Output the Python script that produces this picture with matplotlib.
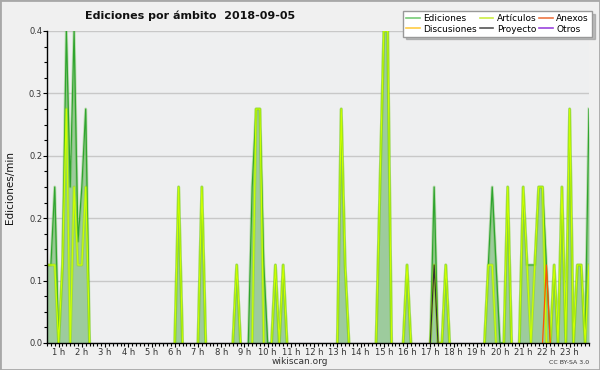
import numpy as np
import matplotlib
matplotlib.use("Agg")
import matplotlib.pyplot as plt
from matplotlib.lines import Line2D
from matplotlib.patches import Rectangle
from matplotlib.ticker import FixedLocator, FuncFormatter

# 10-minute bins, first bin at 00:30
start_hour = 0.5
step_hours = 1 / 6

ediciones = [
    0.1, 0.1, 0.2, 0, 0.1, 0.4, 0.2, 0.4, 0.13, 0.2, 0.3, 0,
    0, 0, 0, 0, 0, 0, 0, 0, 0, 0, 0, 0,
    0, 0, 0, 0, 0, 0, 0, 0, 0, 0, 0.2, 0,
    0, 0, 0, 0, 0.2, 0, 0, 0, 0, 0, 0, 0,
    0, 0.1, 0, 0, 0, 0.2, 0.3, 0.3, 0.1, 0, 0, 0.1,
    0, 0.1, 0, 0, 0, 0, 0, 0, 0, 0, 0, 0,
    0, 0, 0, 0, 0.3, 0.1, 0, 0, 0, 0, 0, 0,
    0, 0, 0.2, 0.4, 0.4, 0, 0, 0, 0, 0.1, 0, 0,
    0, 0, 0, 0, 0.2, 0, 0, 0.1, 0, 0, 0, 0,
    0, 0, 0, 0, 0, 0, 0.1, 0.2, 0.1, 0, 0, 0.2,
    0, 0, 0, 0.2, 0.1, 0.1, 0.1, 0.2, 0.2, 0.1, 0, 0.1,
    0, 0.2, 0, 0.3, 0, 0.1, 0.1, 0, 0.3,
]
articulos = [
    0.1, 0.1, 0.1, 0, 0.1, 0.3, 0, 0.2, 0.1, 0.1, 0.2, 0,
    0, 0, 0, 0, 0, 0, 0, 0, 0, 0, 0, 0,
    0, 0, 0, 0, 0, 0, 0, 0, 0, 0, 0.2, 0,
    0, 0, 0, 0, 0.2, 0, 0, 0, 0, 0, 0, 0,
    0, 0.1, 0, 0, 0, 0, 0.3, 0.3, 0, 0, 0, 0.1,
    0, 0.1, 0, 0, 0, 0, 0, 0, 0, 0, 0, 0,
    0, 0, 0, 0, 0.3, 0.1, 0, 0, 0, 0, 0, 0,
    0, 0, 0.2, 0.4, 0.4, 0, 0, 0, 0, 0.1, 0, 0,
    0, 0, 0, 0, 0.1, 0, 0, 0.1, 0, 0, 0, 0,
    0, 0, 0, 0, 0, 0, 0.1, 0.1, 0, 0, 0, 0.2,
    0, 0, 0, 0.2, 0.1, 0, 0.1, 0.2, 0.2, 0, 0, 0.1,
    0, 0.2, 0, 0.3, 0, 0.1, 0.1, 0, 0.1,
]
# sparse series: {bin index: value}
anexos = {128: 0, 129: 0.1, 130: 0}
proyecto = {99: 0, 100: 0.1, 101: 0}
discusiones = {}
otros = {}

legend_labels = ["Ediciones", "Discusiones", "Artículos", "Proyecto", "Anexos", "Otros"]
legend_colors = ["#77cc77", "#ffcc44", "#ccee44", "#555555", "#ee7744", "#9944dd"]

y_ticks = [0, 0.08, 0.16, 0.24, 0.32, 0.4]
hour_ticks = list(range(1, 24))

fig = plt.figure(figsize=(6, 3.7), dpi=100, facecolor="#f0f0f0")
ax = fig.add_axes([47 / 600, 27 / 370, 542 / 600, 312 / 370], facecolor="#eeeff0")

n = len(ediciones)
x = start_hour + step_hours * np.arange(n)


def hide_flat_zero(vals):
    """Hide runs of zeros along the baseline (keep the zero ends of peaks)."""
    v = np.array(vals, dtype=float)
    out = v.copy()
    for i in range(len(v)):
        left = v[i - 1] if i > 0 else 0
        right = v[i + 1] if i < len(v) - 1 else 0
        if v[i] == 0 and left == 0 and right == 0:
            out[i] = np.nan
    return out


e_line = hide_flat_zero(ediciones)
a_line = hide_flat_zero(articulos)

ax.fill_between(x, ediciones, color="#9dcb9d", lw=0, zorder=2)
ax.plot(x, e_line, color="#66bb44", lw=2.2, alpha=0.35, zorder=3)
ax.plot(x, e_line, color="#2fa52f", lw=0.9, zorder=4)

ax.plot(x, a_line, color="#88dd00", lw=2.2, alpha=0.45, zorder=6)
ax.plot(x, a_line, color="#ccff00", lw=0.9, zorder=7)


def sparse_xy(d):
    idx = sorted(d)
    return [start_hour + step_hours * i for i in idx], [d[i] for i in idx]


for d, col in [(anexos, "#ff5500"), (proyecto, "#333333"), (discusiones, "#ffcc44"), (otros, "#9944dd")]:
    if d:
        sx, sy = sparse_xy(d)
        ax.plot(sx, sy, color=col, lw=0.9, zorder=8)

ax.set_xlim(x[0], x[-1])
ax.set_ylim(0, 0.4)

ax.yaxis.set_major_locator(FixedLocator(y_ticks))
ax.yaxis.set_minor_locator(FixedLocator(np.arange(0, 0.4001, 0.02)))
ax.yaxis.set_major_formatter(FuncFormatter(lambda v, p: f"{v:.1f}"))
ax.xaxis.set_major_locator(FixedLocator(hour_ticks))
ax.xaxis.set_minor_locator(FixedLocator(x))
ax.xaxis.set_major_formatter(FuncFormatter(lambda v, p: f"{int(round(v))} h"))

ax.tick_params(axis="both", which="major", length=3, width=0.8, direction="out",
               labelsize=6, pad=0.5, colors="black", labelcolor="#333333")
ax.tick_params(axis="both", which="minor", length=2.2, width=0.8, direction="out")

ax.grid(axis="y", color="#c8c8c8", lw=1, zorder=1)
ax.grid(axis="x", visible=False)
ax.set_axisbelow(True)
for s in ["top", "right"]:
    ax.spines[s].set_visible(False)
for s in ["left", "bottom"]:
    ax.spines[s].set_color("black")
    ax.spines[s].set_linewidth(1)
    ax.spines[s].set_zorder(10)

handles = [Line2D([], [], color=c, lw=1.2) for c in legend_colors]
leg = fig.legend(handles, legend_labels, ncol=3, loc="upper right",
                 bbox_to_anchor=(592 / 600, 1 - 11 / 370), fontsize=6.5,
                 frameon=True, fancybox=False, shadow={"color": "#888888"},
                 handlelength=1.5, handletextpad=0.4, columnspacing=0.3,
                 labelspacing=0.15, borderpad=0.35, borderaxespad=0)
leg.get_frame().set_edgecolor("#999999")
leg.get_frame().set_facecolor("white")
leg.get_frame().set_linewidth(1)

fig.text(85 / 600, 1 - 16 / 370, "Ediciones por ámbito  2018-09-05",
         fontsize=8, fontweight="bold", ha="left", va="center", color="#111111")
fig.text(10 / 600, 1 - 188 / 370, "Ediciones/min", rotation=90,
         fontsize=7.5, ha="center", va="center", color="#111111")
fig.text(300 / 600, 1 - 362 / 370, "wikiscan.org", fontsize=6.5,
         ha="center", va="center", color="#333333")
fig.text(589 / 600, 1 - 362 / 370, "CC BY-SA 3.0", fontsize=4.5,
         ha="right", va="center", color="#333333")

fig.patches.append(Rectangle((0, 0), 1, 1, transform=fig.transFigure, fill=False,
                             edgecolor="#a8a8a8", lw=2))

fig.savefig("out.png", dpi=100, facecolor=fig.get_facecolor())
